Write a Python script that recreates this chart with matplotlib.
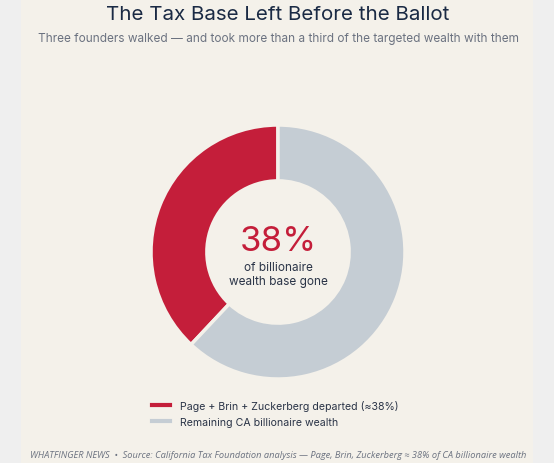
import matplotlib
matplotlib.use("Agg")
import matplotlib.pyplot as plt
from matplotlib.patches import Rectangle
from matplotlib.lines import Line2D

labels = ["Page + Brin + Zuckerberg departed (≈38%)", "Remaining CA billionaire wealth"]
values = [38, 62]
colors = ["#c41e3a", "#c5cdd4"]
title = "The Tax Base Left Before the Ballot"
subtitle = "Three founders walked — and took more than a third of the targeted wealth with them"
center_big = "38%"
center_small = "of billionaire\nwealth base gone"
footer = "WHATFINGER NEWS  •  Source: California Tax Foundation analysis — Page, Brin, Zuckerberg ≈ 38% of CA billionaire wealth"

W, H = 554, 464
fig = plt.figure(figsize=(W/100, H/100), dpi=100)
fig.patch.set_facecolor("#efefef")
fig.add_artist(Rectangle((21/W, 0), (533-21)/W, 1, transform=fig.transFigure,
                         facecolor="#f4f1ea", edgecolor="none", zorder=0))

font = ["Inter", "DejaVu Sans"]

r = 127
cx, cy = 278, 253
ax = fig.add_axes([(cx-r)/W, 1-(cy+r)/H, 2*r/W, 2*r/H])
ax.set_facecolor("none")
ax.pie(values, colors=colors, startangle=90, counterclock=True,
       wedgeprops=dict(width=0.44, edgecolor="#f4f1ea", linewidth=2.5), radius=1.0)
ax.set_xlim(-1, 1); ax.set_ylim(-1, 1)
ax.set_aspect("equal")
ax.axis("off")

fig.text(cx/W, 1-242/H, center_big, ha="center", va="center", fontsize=25,
         color="#c41e3a", family=font)
fig.text(cx/W, 1-275/H, center_small, ha="center", va="center", fontsize=8.5,
         color="#2a3447", family=font, linespacing=1.15)

fig.text(278/W, 1-15/H, title, ha="center", va="center", fontsize=14.8,
         color="#1a2a44", family=font)
fig.text(278/W, 1-39/H, subtitle, ha="center", va="center", fontsize=8.5,
         color="#6b7280", family=font)

handles = [Line2D([0], [0], color=c, lw=3) for c in colors]
leg = fig.legend(handles, labels, loc="upper left", bbox_to_anchor=(152/W, 1-401/H),
                 frameon=False, prop=dict(family=font, size=7.6), handlelength=1.7,
                 handletextpad=0.95, labelspacing=0.55, borderaxespad=0, borderpad=0)
for t in leg.get_texts():
    t.set_color("#2a3447")

fig.text(30/W, 1-456/H, footer, ha="left", va="center", fontsize=6.7,
         color="#6b7280", family=["Open Sans", "DejaVu Sans"], style="italic")

fig.savefig("out.png", dpi=100, facecolor=fig.get_facecolor())
